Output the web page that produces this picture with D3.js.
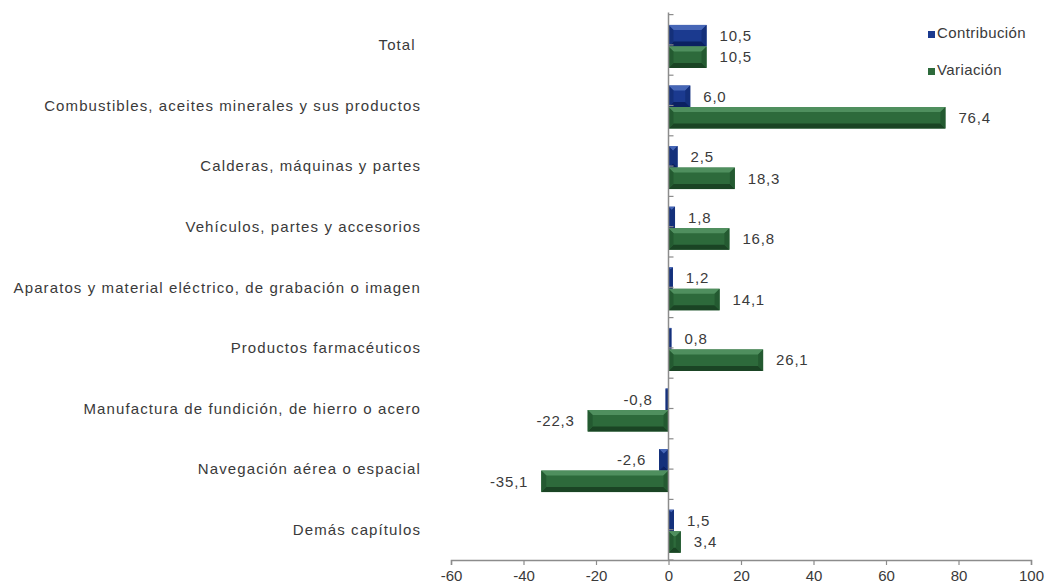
<!DOCTYPE html>
<html>
<head>
<meta charset="utf-8">
<script src="https://cdn.jsdelivr.net/npm/d3@7"></script>
<style>
  html, body { margin: 0; padding: 0; background: #fff; }
  svg { display: block; font-family: "Liberation Sans", Arial, sans-serif; }
  .cat { white-space: pre; }
</style>
</head>
<body>
<svg id="chart" width="1048" height="585"></svg>
<script>
const categories = [
  "Total ",
  "Combustibles, aceites minerales y sus productos",
  "Calderas, máquinas y partes",
  "Vehículos, partes y accesorios",
  "Aparatos y material eléctrico, de grabación o imagen",
  "Productos farmacéuticos",
  "Manufactura de fundición, de hierro o acero",
  "Navegación aérea o espacial",
  "Demás capítulos"
];
const contribucion = [10.5, 6.0, 2.5, 1.8, 1.2, 0.8, -0.8, -2.6, 1.5];
const variacion    = [10.5, 76.4, 18.3, 16.8, 14.1, 26.1, -22.3, -35.1, 3.4];
const xTicks = [-60, -40, -20, 0, 20, 40, 60, 80, 100];
const seriesNames = ["Contribución", "Variación"];

const fmt = v => v.toFixed(1).replace(".", ",");

const svg = d3.select("#chart");
const x = d3.scaleLinear().domain([-60, 100]).range([451, 1031]);
const y = d3.scaleBand().domain(categories).range([14.6, 560]).padding(0);
const bw = y.bandwidth();
const axisColor = "#8c8c8c";
const textColor = "#3a3a3a";

const palettes = {
  blue:  { top: "#4666b6", mid: "#1b3a8f", side: "#14307a", bot: "#0b2161" },
  green: { top: "#4f8f5e", mid: "#2d6a3b", side: "#245a31", bot: "#1a4424" }
};

function bevelBar(g, x0, y0, w, h, p) {
  const b = Math.min(5, w / 2, h / 2);
  const x1 = x0 + w, y1 = y0 + h;
  const poly = pts => pts.map(d => d.join(",")).join(" ");
  g.append("rect").attr("x", x0).attr("y", y0).attr("width", w).attr("height", h).attr("fill", p.mid);
  g.append("polygon").attr("points", poly([[x0,y0],[x1,y0],[x1-b,y0+b],[x0+b,y0+b]])).attr("fill", p.top);
  g.append("polygon").attr("points", poly([[x0,y1],[x1,y1],[x1-b,y1-b],[x0+b,y1-b]])).attr("fill", p.bot);
  g.append("polygon").attr("points", poly([[x0,y0],[x0+b,y0+b],[x0+b,y1-b],[x0,y1]])).attr("fill", p.side);
  g.append("polygon").attr("points", poly([[x1,y0],[x1-b,y0+b],[x1-b,y1-b],[x1,y1]])).attr("fill", p.side);
}

const barsG = svg.append("g");
const labelsG = svg.append("g").attr("font-size", 15).attr("fill", textColor);
const barH = 21.5;

categories.forEach((cat, i) => {
  const c = y(cat) + bw / 2;
  const series = [
    { v: contribucion[i], y0: c + 1.5 - barH, p: palettes.blue },
    { v: variacion[i],    y0: c + 1.5,        p: palettes.green }
  ];
  series.forEach(s => {
    const xa = Math.min(x(0), x(s.v)), xb = Math.max(x(0), x(s.v));
    bevelBar(barsG, xa, s.y0, Math.max(xb - xa, 0.8), barH, s.p);
    const pos = s.v >= 0;
    labelsG.append("text")
      .attr("x", pos ? x(s.v) + 13 : x(s.v) - 13)
      .attr("y", s.y0 + barH / 2)
      .attr("dy", "0.35em")
      .attr("text-anchor", pos ? "start" : "end")
      .attr("letter-spacing", 0.8)
      .text(fmt(s.v));
  });
  svg.append("text")
    .attr("class", "cat")
    .attr("x", 421).attr("y", c).attr("dy", "0.35em")
    .attr("text-anchor", "end")
    .attr("font-size", 15)
    .attr("fill", textColor)
    .attr("letter-spacing", 1.1)
    .text(cat);
});

// vertical category axis at zero
const yAxisG = svg.append("g");
yAxisG.append("line").attr("x1", x(0)).attr("x2", x(0))
  .attr("y1", y.range()[0] - 2).attr("y2", y.range()[1])
  .attr("stroke", axisColor).attr("stroke-width", 1.5);
d3.range(0, categories.length * 2 + 1).forEach(k => {
  const yy = y.range()[0] + k * bw / 2;
  yAxisG.append("line").attr("x1", x(0)).attr("x2", x(0) + 5)
    .attr("y1", yy).attr("y2", yy).attr("stroke", axisColor).attr("stroke-width", 1.2);
});

// bottom value axis
const xAxis = d3.axisBottom(x).tickValues(xTicks).tickSize(5).tickPadding(5)
  .tickFormat(d => String(d));
const xg = svg.append("g").attr("transform", `translate(0,${y.range()[1]})`).call(xAxis);
xg.select(".domain").attr("stroke", axisColor).attr("stroke-width", 1.5);
xg.selectAll(".tick line").attr("stroke", axisColor).attr("stroke-width", 1.2);
xg.selectAll(".tick text").attr("font-size", 15).attr("fill", textColor)
  .attr("font-family", "Liberation Sans, Arial, sans-serif");

// legend
const legend = svg.append("g");
const legendColors = [palettes.blue.mid, palettes.green.mid];
const legendY = [33, 70];
seriesNames.forEach((n, i) => {
  legend.append("rect").attr("x", 928).attr("y", legendY[i] - 2).attr("width", 7).attr("height", 7)
    .attr("fill", legendColors[i]);
  legend.append("text").attr("x", 937).attr("y", legendY[i]).attr("dy", "0.35em")
    .attr("font-size", 15).attr("letter-spacing", 0.4).attr("fill", textColor).text(n);
});
</script>
</body>
</html>
